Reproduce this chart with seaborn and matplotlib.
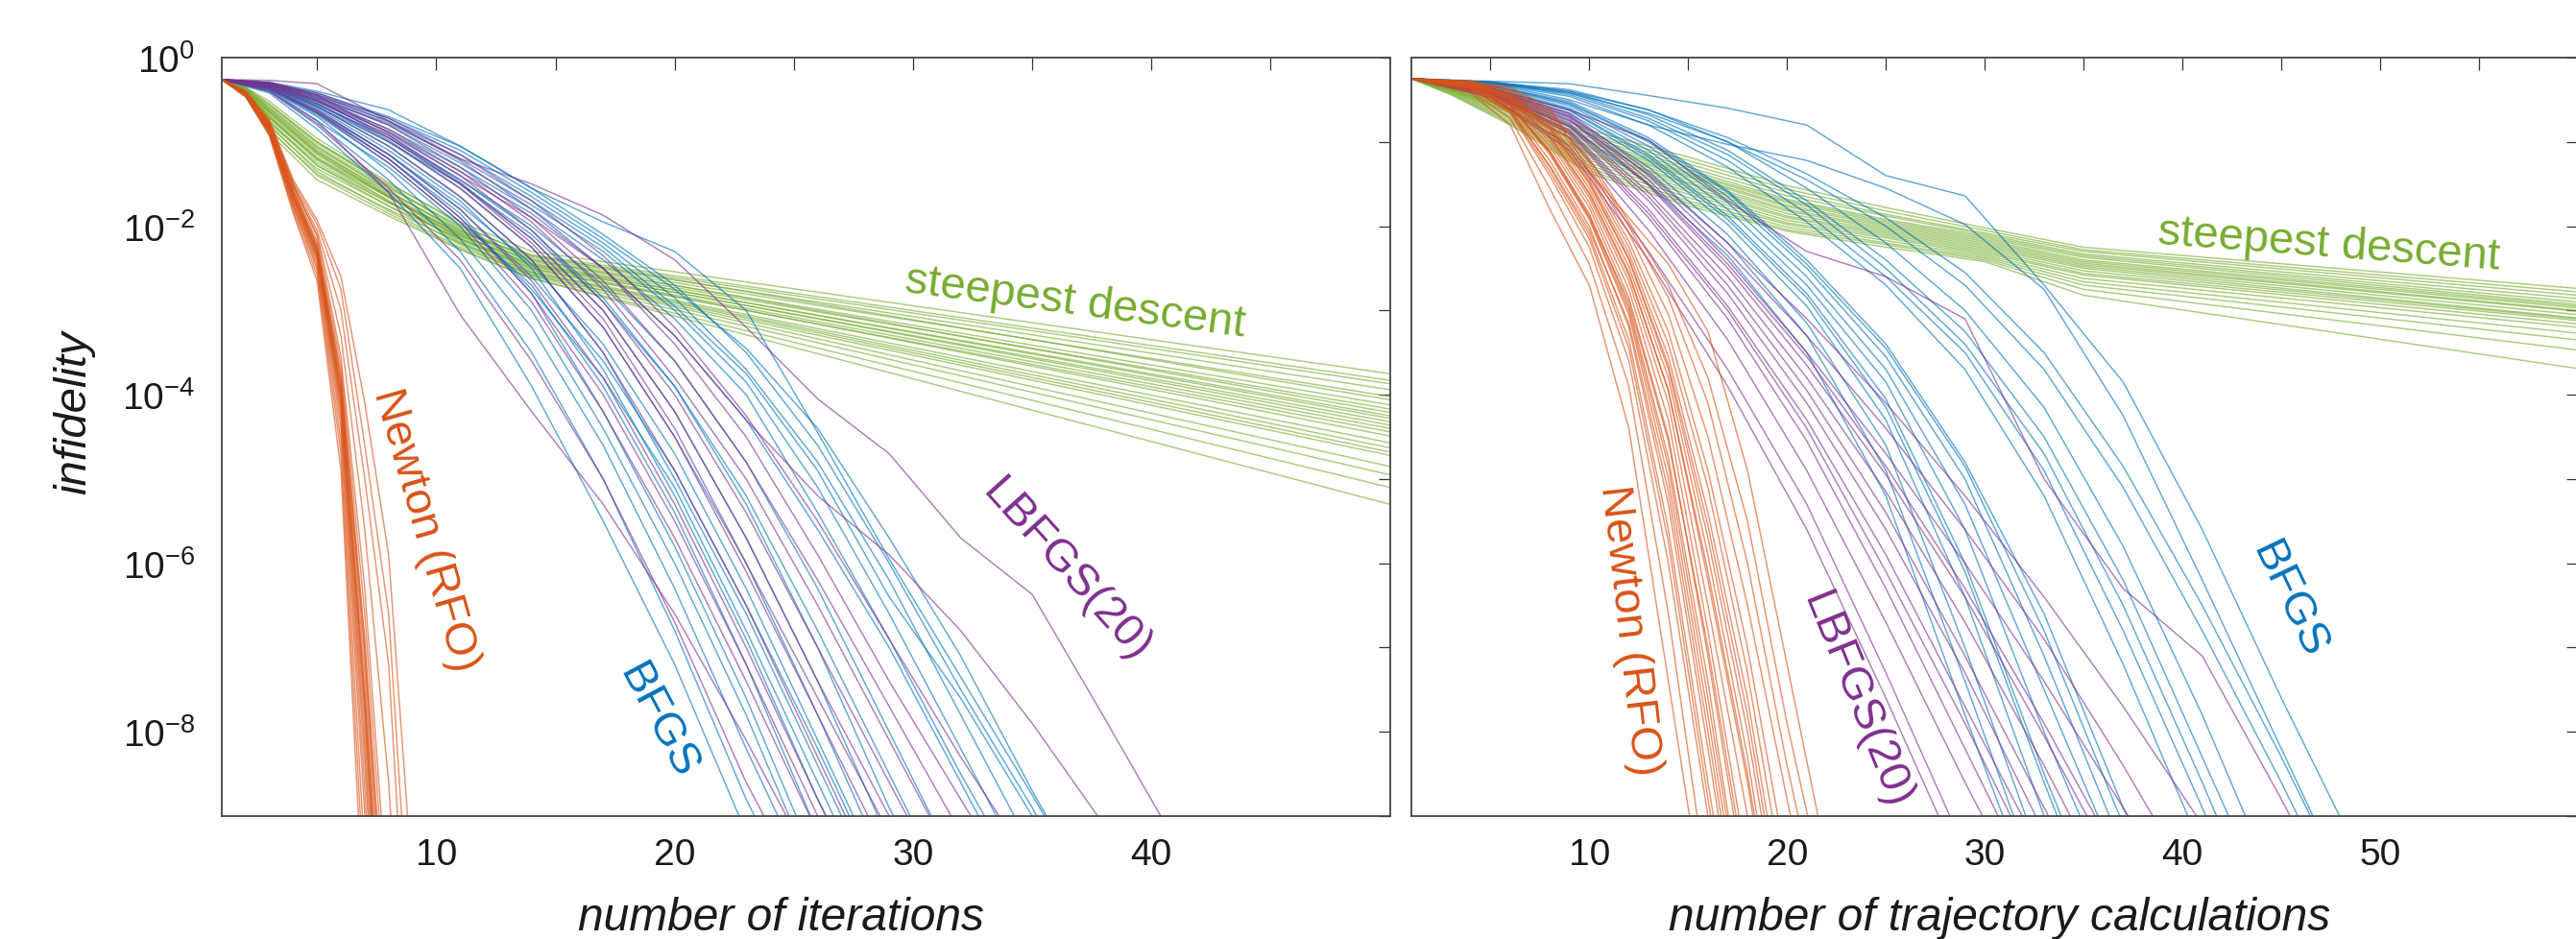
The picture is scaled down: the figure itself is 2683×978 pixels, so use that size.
import numpy as np
import pandas as pd
import matplotlib
matplotlib.use("Agg")
import matplotlib.pyplot as plt
import seaborn as sns

# values are log10(infidelity)
# ---------------- left panel: number of iterations ----------------
newton_it_x = [1, 2, 3, 4, 5, 6, 7, 8, 9]
newton_it = [
    [-0.26, -0.40, -0.78, -1.52, -2.12, -3.55, -6.3, -10.2],
    [-0.26, -0.41, -0.80, -1.55, -2.18, -3.65, -6.6, -10.6],
    [-0.26, -0.41, -0.81, -1.57, -2.22, -3.75, -6.9, -11.0],
    [-0.26, -0.42, -0.82, -1.60, -2.26, -3.85, -7.1, -11.5],
    [-0.26, -0.42, -0.83, -1.62, -2.28, -3.90, -7.3, -11.8],
    [-0.26, -0.42, -0.84, -1.63, -2.30, -3.95, -7.5, -12.0],
    [-0.26, -0.43, -0.84, -1.65, -2.32, -4.00, -7.6, -12.0],
    [-0.26, -0.43, -0.85, -1.66, -2.34, -4.05, -7.8, -12.5],
    [-0.26, -0.43, -0.86, -1.68, -2.36, -4.10, -8.0, -12.5],
    [-0.26, -0.44, -0.87, -1.70, -2.38, -4.15, -8.2, -13.0],
    [-0.26, -0.44, -0.88, -1.72, -2.40, -4.20, -8.4, -13.0],
    [-0.26, -0.44, -0.88, -1.74, -2.44, -4.30, -8.7, -13.5],
    [-0.26, -0.45, -0.89, -1.76, -2.48, -4.40, -9.0, -14.0],
    [-0.26, -0.45, -0.90, -1.78, -2.52, -4.55, -9.5],
    [-0.26, -0.46, -0.92, -1.82, -2.58, -4.70, -10.0],
    [-0.26, -0.46, -0.93, -1.85, -2.65, -4.90, -10.5],
    [-0.26, -0.42, -0.82, -1.58, -2.24, -3.80, -7.0, -11.2],
    [-0.26, -0.43, -0.85, -1.64, -2.30, -3.98, -7.7, -12.2],
    [-0.26, -0.40, -0.74, -1.45, -1.93, -2.60, -4.10, -5.90, -9.8],
    [-0.26, -0.40, -0.76, -1.48, -1.98, -2.75, -4.60, -6.60, -11.0],
    [-0.26, -0.41, -0.78, -1.50, -2.05, -3.00, -5.00, -7.20, -12.0],
    [-0.26, -0.41, -0.78, -1.52, -2.10, -3.30, -5.60, -8.60, -13.0],
]

sd_it_x = [1, 2, 3, 5, 8, 11, 14, 50]
sd_it = [
    [-0.26, -0.36, -0.55, -1.00, -1.50, -1.95, -2.30, -3.75],
    [-0.26, -0.38, -0.60, -1.05, -1.55, -2.00, -2.34, -3.83],
    [-0.26, -0.35, -0.52, -0.96, -1.48, -1.98, -2.36, -3.87],
    [-0.26, -0.40, -0.66, -1.12, -1.60, -2.05, -2.38, -3.94],
    [-0.26, -0.37, -0.58, -1.02, -1.52, -2.02, -2.40, -4.02],
    [-0.26, -0.42, -0.72, -1.20, -1.66, -2.08, -2.35, -4.06],
    [-0.26, -0.39, -0.63, -1.08, -1.58, -2.06, -2.42, -4.12],
    [-0.26, -0.36, -0.56, -1.00, -1.53, -2.04, -2.44, -4.17],
    [-0.26, -0.44, -0.78, -1.28, -1.72, -2.12, -2.40, -4.21],
    [-0.26, -0.38, -0.62, -1.10, -1.62, -2.10, -2.46, -4.25],
    [-0.26, -0.41, -0.70, -1.18, -1.65, -2.10, -2.45, -4.28],
    [-0.26, -0.37, -0.60, -1.06, -1.58, -2.08, -2.48, -4.32],
    [-0.26, -0.45, -0.82, -1.32, -1.76, -2.15, -2.47, -4.36],
    [-0.26, -0.40, -0.68, -1.15, -1.64, -2.12, -2.50, -4.40],
    [-0.26, -0.39, -0.65, -1.14, -1.66, -2.14, -2.52, -4.44],
    [-0.26, -0.43, -0.76, -1.25, -1.72, -2.16, -2.50, -4.49],
    [-0.26, -0.38, -0.64, -1.12, -1.64, -2.15, -2.54, -4.57],
    [-0.26, -0.46, -0.86, -1.38, -1.80, -2.20, -2.55, -4.63],
    [-0.26, -0.41, -0.72, -1.22, -1.70, -2.18, -2.56, -4.68],
    [-0.26, -0.40, -0.70, -1.20, -1.70, -2.20, -2.58, -4.72],
    [-0.26, -0.44, -0.80, -1.35, -1.82, -2.25, -2.58, -4.85],
    [-0.26, -0.42, -0.75, -1.28, -1.76, -2.22, -2.60, -4.95],
    [-0.26, -0.47, -0.90, -1.45, -1.88, -2.28, -2.62, -5.10],
    [-0.26, -0.45, -0.85, -1.40, -1.85, -2.27, -2.62, -5.30],
]

qn_it_x = [1, 3, 5, 8, 11, 14, 17, 20, 23, 26, 29, 32, 35, 38, 41]
bfgs_it = [
    [-0.26, -0.42, -0.85, -1.60, -2.50, -3.90, -5.50, -7.20, -9.20],
    [-0.26, -0.40, -0.78, -1.45, -2.30, -3.50, -5.00, -6.80, -8.80, -10.5],
    [-0.26, -0.38, -0.70, -1.35, -2.15, -3.20, -4.60, -6.30, -8.20, -10.0],
    [-0.26, -0.40, -0.75, -1.30, -2.00, -3.00, -4.40, -6.00, -7.80, -9.8],
    [-0.26, -0.36, -0.65, -1.20, -1.85, -2.80, -4.20, -5.80, -7.60, -9.6],
    [-0.26, -0.37, -0.68, -1.25, -1.95, -2.70, -3.90, -5.40, -7.20, -9.2],
    [-0.26, -0.35, -0.60, -1.10, -1.70, -2.50, -3.70, -5.20, -6.90, -8.8, -10.5],
    [-0.26, -0.34, -0.58, -1.05, -1.65, -2.40, -3.50, -5.00, -6.60, -8.40, -10.2],
    [-0.26, -0.36, -0.62, -1.15, -1.75, -2.45, -3.40, -4.70, -6.30, -8.10, -9.9],
    [-0.26, -0.33, -0.55, -1.00, -1.55, -2.25, -3.20, -4.50, -6.00, -7.80, -9.7],
    [-0.26, -0.34, -0.56, -0.95, -1.50, -2.15, -3.00, -4.20, -5.70, -7.40, -9.3],
    [-0.26, -0.32, -0.52, -0.92, -1.45, -2.05, -2.85, -3.90, -5.30, -7.00, -8.9, -10.5],
    [-0.26, -0.32, -0.50, -0.85, -1.30, -1.80, -2.40, -3.10, -4.00, -5.40, -6.90, -8.50, -10.0],
    [-0.26, -0.31, -0.48, -0.80, -1.25, -1.75, -2.30, -3.00, -3.85, -5.10, -6.60, -8.20, -9.8],
    [-0.26, -0.33, -0.52, -0.88, -1.35, -1.85, -2.50, -3.30, -4.30, -5.60, -7.00, -8.60, -10.2],
    [-0.26, -0.30, -0.45, -0.75, -1.15, -1.65, -2.20, -2.85, -3.70, -4.80, -6.20, -7.80, -9.40],
    [-0.26, -0.31, -0.47, -0.78, -1.20, -1.70, -2.25, -2.95, -3.75, -4.90, -6.40, -7.60, -9.00, -10.5],
    [-0.26, -0.30, -0.42, -0.70, -1.05, -1.55, -2.10, -2.70, -3.50, -4.60, -6.00, -7.50, -8.90, -10.5],
    [-0.26, -0.29, -0.40, -0.62, -1.05, -1.55, -1.95, -2.30, -3.00, -4.45, -5.95, -7.35, -8.75, -10.2],
    [-0.26, -0.30, -0.44, -0.72, -1.10, -1.60, -2.15, -2.75, -3.45, -4.40, -5.70, -7.10, -8.70, -10.2],
    [-0.26, -0.35, -0.58, -1.00, -1.50, -2.10, -2.90, -3.90, -5.20, -6.80, -8.50, -10.2],
    [-0.26, -0.34, -0.55, -0.95, -1.45, -2.00, -2.70, -3.60, -4.80, -6.30, -8.00, -9.7],
    [-0.26, -0.37, -0.64, -1.15, -1.80, -2.60, -3.60, -4.90, -6.50, -8.20, -10.0],
    [-0.26, -0.38, -0.66, -1.20, -1.90, -2.75, -3.80, -5.10, -6.80, -8.60, -10.4],
]
lbfgs_it = [
    [-0.26, -0.40, -0.80, -1.55, -2.40, -3.60, -5.00, -6.70, -8.60, -10.2],
    [-0.26, -0.38, -0.75, -1.60, -3.05, -4.20, -5.30, -6.60, -8.10, -9.70],
    [-0.26, -0.36, -0.66, -1.25, -1.95, -2.90, -4.20, -5.70, -7.40, -9.20],
    [-0.26, -0.35, -0.62, -1.15, -1.80, -2.65, -3.80, -5.30, -7.00, -8.80, -10.5],
    [-0.26, -0.34, -0.58, -1.05, -1.65, -2.40, -3.50, -4.90, -6.50, -8.30, -10.1],
    [-0.26, -0.33, -0.54, -0.98, -1.55, -2.25, -3.20, -4.50, -6.10, -7.80, -9.50],
    [-0.26, -0.33, -0.52, -0.92, -1.48, -2.15, -3.00, -4.20, -5.70, -7.40, -9.00, -10.5],
    [-0.26, -0.32, -0.50, -0.88, -1.40, -2.05, -2.90, -4.00, -5.40, -7.00, -8.60, -10.2],
    [-0.26, -0.31, -0.48, -0.85, -1.35, -1.95, -2.75, -3.80, -5.00, -6.50, -8.10, -9.70],
    [-0.26, -0.31, -0.46, -0.80, -1.30, -1.90, -2.65, -3.60, -4.80, -6.20, -7.70, -9.20],
    [-0.26, -0.30, -0.44, -0.76, -1.22, -1.80, -2.50, -3.40, -4.50, -5.90, -7.40, -8.80, -10.2],
    [-0.26, -0.30, -0.42, -0.72, -1.15, -1.70, -2.35, -3.20, -4.25, -5.50, -6.90, -8.30, -9.60],
    [-0.26, -0.30, -0.45, -0.90, -1.40, -1.90, -2.50, -3.30, -4.30, -5.20, -5.90, -6.80, -7.90, -9.10],
    [-0.26, -0.27, -0.31, -0.75, -1.20, -1.50, -1.87, -2.40, -3.20, -4.05, -4.70, -5.70, -6.37, -7.82, -9.30],
    [-0.26, -0.32, -0.50, -0.95, -1.50, -2.20, -3.10, -4.40, -6.00, -7.60, -9.20],
    [-0.26, -0.36, -0.64, -1.20, -1.90, -2.80, -4.00, -5.50, -7.20, -9.00, -10.6],
]

# ---------------- right panel: number of trajectory calculations ----------------
newton_tr_x = [1, 4, 6, 8, 10, 12, 14, 16, 18, 20, 22]
newton_tr = [
    [-0.25, -0.42, -0.80, -1.80, -2.70, -4.40, -7.40, -10.4],
    [-0.25, -0.40, -0.72, -1.55, -2.45, -3.90, -6.60, -9.90],
    [-0.25, -0.38, -0.66, -1.40, -2.25, -3.60, -6.00, -9.00, -12.0],
    [-0.25, -0.36, -0.62, -1.30, -2.10, -3.35, -5.60, -8.60, -11.5],
    [-0.25, -0.35, -0.60, -1.22, -2.00, -3.20, -5.30, -8.20, -11.2],
    [-0.25, -0.34, -0.57, -1.15, -1.92, -3.05, -5.00, -7.80, -10.8],
    [-0.25, -0.34, -0.55, -1.10, -1.85, -2.95, -4.75, -7.40, -10.5],
    [-0.25, -0.33, -0.53, -1.05, -1.78, -2.85, -4.50, -7.10, -10.0],
    [-0.25, -0.33, -0.51, -1.00, -1.72, -2.75, -4.30, -6.80, -9.60],
    [-0.25, -0.32, -0.50, -0.96, -1.66, -2.65, -4.10, -6.50, -9.00, -11.5],
    [-0.25, -0.32, -0.48, -0.92, -1.60, -2.55, -3.95, -6.20, -8.60, -11.5],
    [-0.25, -0.31, -0.47, -0.88, -1.55, -2.48, -3.80, -5.90, -8.30, -11.2],
    [-0.25, -0.31, -0.46, -0.85, -1.50, -2.40, -3.70, -5.70, -8.00, -10.8],
    [-0.25, -0.30, -0.45, -0.82, -1.45, -2.32, -3.55, -5.40, -7.60, -10.4],
    [-0.25, -0.30, -0.44, -0.80, -1.40, -2.25, -3.40, -5.10, -7.30, -10.0],
    [-0.25, -0.30, -0.43, -0.77, -1.36, -2.18, -3.25, -4.90, -7.00, -9.60],
    [-0.25, -0.29, -0.41, -0.72, -1.30, -2.08, -3.05, -4.50, -6.50, -8.80, -11.0],
    [-0.25, -0.29, -0.39, -0.68, -1.25, -2.00, -2.85, -4.10, -6.00, -8.40, -10.5],
    [-0.25, -0.28, -0.37, -0.64, -1.20, -1.95, -2.70, -3.80, -5.50, -7.90, -10.0],
    [-0.25, -0.28, -0.35, -0.60, -1.35, -1.90, -2.45, -3.25, -4.90, -7.20, -9.50],
    [-0.25, -0.36, -0.63, -1.28, -2.05, -3.15, -5.15, -8.00, -11.0],
    [-0.25, -0.35, -0.58, -1.12, -1.88, -2.90, -4.55, -7.00, -9.80],
    [-0.25, -0.32, -0.49, -0.94, -1.62, -2.58, -3.95, -6.10, -8.50, -11.3],
    [-0.25, -0.31, -0.46, -0.84, -1.48, -2.38, -3.65, -5.55, -7.80, -10.6],
    [-0.25, -0.34, -0.56, -1.12, -1.90, -3.00, -4.85, -7.60, -10.6],
    [-0.25, -0.37, -0.64, -1.35, -2.15, -3.45, -5.75, -8.80, -11.6],
]

sd_tr_x = [1, 3, 6, 10, 15, 20, 25, 30, 35, 60]
sd_tr = [
    [-0.25, -0.32, -0.48, -0.86, -1.18, -1.52, -1.78, -2.02, -2.25, -2.74],
    [-0.25, -0.33, -0.50, -0.90, -1.22, -1.56, -1.82, -2.05, -2.28, -2.78],
    [-0.25, -0.33, -0.52, -0.92, -1.26, -1.60, -1.86, -2.08, -2.30, -2.82],
    [-0.25, -0.34, -0.54, -0.95, -1.30, -1.64, -1.88, -2.10, -2.33, -2.86],
    [-0.25, -0.34, -0.55, -0.98, -1.33, -1.68, -1.92, -2.12, -2.35, -2.90],
    [-0.25, -0.35, -0.57, -1.00, -1.36, -1.70, -1.94, -2.14, -2.37, -2.93],
    [-0.25, -0.35, -0.58, -1.02, -1.38, -1.72, -1.96, -2.16, -2.40, -2.95],
    [-0.25, -0.36, -0.60, -1.05, -1.40, -1.75, -1.98, -2.18, -2.42, -2.97],
    [-0.25, -0.36, -0.61, -1.07, -1.42, -1.77, -2.00, -2.20, -2.44, -3.00],
    [-0.25, -0.37, -0.62, -1.09, -1.45, -1.80, -2.02, -2.22, -2.46, -3.01],
    [-0.25, -0.37, -0.64, -1.12, -1.48, -1.82, -2.04, -2.24, -2.48, -3.05],
    [-0.25, -0.38, -0.65, -1.14, -1.50, -1.85, -2.06, -2.26, -2.50, -3.09],
    [-0.25, -0.38, -0.66, -1.16, -1.53, -1.88, -2.08, -2.28, -2.53, -3.10],
    [-0.25, -0.39, -0.68, -1.19, -1.56, -1.90, -2.10, -2.30, -2.56, -3.12],
    [-0.25, -0.39, -0.70, -1.22, -1.59, -1.93, -2.12, -2.32, -2.58, -3.16],
    [-0.25, -0.40, -0.72, -1.25, -1.62, -1.96, -2.14, -2.34, -2.62, -3.20],
    [-0.25, -0.41, -0.74, -1.28, -1.66, -1.98, -2.17, -2.36, -2.66, -3.27],
    [-0.25, -0.42, -0.76, -1.31, -1.70, -2.01, -2.20, -2.38, -2.70, -3.35],
    [-0.25, -0.43, -0.78, -1.34, -1.73, -2.04, -2.22, -2.40, -2.75, -3.47],
    [-0.25, -0.44, -0.80, -1.37, -1.76, -2.06, -2.25, -2.42, -2.82, -3.69],
]

qn_tr_x = [1, 5, 9, 13, 17, 21, 25, 29, 33, 37, 41, 45, 49]
bfgs_tr = [
    [-0.25, -0.42, -0.82, -1.50, -2.35, -3.50, -5.20, -7.80, -10.3],
    [-0.25, -0.40, -0.75, -1.38, -2.20, -3.30, -4.90, -7.40, -10.0],
    [-0.25, -0.38, -0.70, -1.30, -2.10, -3.15, -4.60, -7.00, -9.60],
    [-0.25, -0.37, -0.66, -1.22, -1.98, -2.95, -4.30, -6.40, -9.00, -11.0],
    [-0.25, -0.36, -0.62, -1.15, -1.88, -2.80, -4.05, -6.00, -8.50, -10.8],
    [-0.25, -0.35, -0.60, -1.10, -1.80, -2.70, -3.85, -5.60, -8.00, -10.2],
    [-0.25, -0.34, -0.57, -1.05, -1.72, -2.60, -3.70, -5.30, -7.50, -9.70],
    [-0.25, -0.33, -0.55, -1.00, -1.65, -2.50, -3.55, -5.00, -7.10, -9.40],
    [-0.25, -0.33, -0.52, -0.95, -1.58, -2.40, -3.40, -4.80, -6.60, -8.90, -11.0],
    [-0.25, -0.31, -0.46, -0.80, -1.30, -1.95, -2.70, -3.70, -5.20, -7.20, -9.40],
    [-0.25, -0.30, -0.44, -0.75, -1.22, -1.85, -2.60, -3.50, -4.90, -6.80, -8.90, -11.0],
    [-0.25, -0.30, -0.42, -0.72, -1.15, -1.75, -2.50, -3.40, -4.70, -6.50, -8.60, -10.8],
    [-0.25, -0.29, -0.40, -0.68, -1.10, -1.70, -2.40, -3.25, -4.50, -6.20, -8.30, -10.4],
    [-0.25, -0.29, -0.38, -0.62, -1.00, -1.55, -2.20, -3.00, -4.15, -5.80, -7.80, -10.0],
    [-0.25, -0.31, -0.50, -0.80, -1.03, -1.22, -1.55, -1.98, -2.75, -4.25, -6.20, -8.20, -10.2],
    [-0.25, -0.28, -0.31, -0.45, -0.60, -0.80, -1.40, -1.64, -2.70, -3.85, -5.60, -7.60, -9.50],
    [-0.25, -0.30, -0.42, -0.66, -1.00, -1.45, -2.00, -2.70, -3.70, -5.10, -6.80, -8.60, -10.5],
    [-0.25, -0.29, -0.40, -0.62, -0.95, -1.38, -1.90, -2.55, -3.50, -4.85, -6.50, -8.30, -10.2],
    [-0.25, -0.33, -0.54, -0.98, -1.60, -2.45, -3.45, -4.85, -6.80, -9.10],
    [-0.25, -0.36, -0.63, -1.18, -1.92, -2.85, -4.15, -6.10, -8.60, -11.0],
]
lbfgs_tr = [
    [-0.25, -0.46, -1.05, -2.30, -3.70, -5.30, -7.30, -9.40],
    [-0.25, -0.44, -0.95, -2.05, -3.35, -4.90, -6.70, -8.60, -10.4],
    [-0.25, -0.43, -0.90, -1.90, -3.10, -4.55, -6.30, -8.20, -10.1],
    [-0.25, -0.42, -0.86, -1.80, -2.95, -4.30, -5.90, -7.70, -9.50],
    [-0.25, -0.41, -0.82, -1.70, -2.80, -4.10, -5.60, -7.30, -9.20],
    [-0.25, -0.40, -0.78, -1.60, -2.60, -3.80, -5.15, -6.70, -8.40, -10.2],
    [-0.25, -0.39, -0.74, -1.52, -2.50, -3.65, -4.95, -6.40, -8.05, -9.80],
    [-0.25, -0.38, -0.70, -1.45, -2.40, -3.50, -4.70, -6.00, -7.40, -8.90, -10.4],
    [-0.25, -0.37, -0.66, -1.35, -2.20, -3.10, -4.10, -5.20, -6.40, -7.70, -9.10],
    [-0.25, -0.36, -0.62, -0.98, -1.70, -2.30, -2.60, -3.10, -5.00, -6.30, -7.10, -8.80, -10.6],
    [-0.25, -0.47, -1.10, -2.40, -3.90, -5.60, -7.60, -9.70],
    [-0.25, -0.42, -0.88, -1.85, -3.00, -4.40, -6.10, -7.90, -9.80],
    [-0.25, -0.40, -0.80, -1.65, -2.70, -3.95, -5.40, -7.10, -8.90, -10.7],
    [-0.25, -0.39, -0.72, -1.50, -2.45, -3.55, -4.85, -6.30, -7.90, -9.60],
    [-0.25, -0.37, -0.68, -1.40, -2.30, -3.30, -4.40, -5.60, -6.90, -8.40, -10.0],
]

methods = ["steepest descent", "BFGS", "LBFGS(20)", "Newton (RFO)"]
colors = {"steepest descent": "#77AC30", "BFGS": "#0072BD",
          "LBFGS(20)": "#7E2F8E", "Newton (RFO)": "#D95319"}


def long_frame(groups):
    rows = []
    for method, xs, runs in groups:
        for i, run in enumerate(runs):
            for x, v in zip(xs, run):
                rows.append((method, f"{method}-{i}", x, 10.0 ** v))
    return pd.DataFrame(rows, columns=["method", "run", "x", "infidelity"])


df_it = long_frame([
    ("steepest descent", sd_it_x, sd_it),
    ("BFGS", qn_it_x, bfgs_it),
    ("LBFGS(20)", qn_it_x, lbfgs_it),
    ("Newton (RFO)", newton_it_x, newton_it),
])
df_tr = long_frame([
    ("steepest descent", sd_tr_x, sd_tr),
    ("BFGS", qn_tr_x, bfgs_tr),
    ("LBFGS(20)", qn_tr_x, lbfgs_tr),
    ("Newton (RFO)", newton_tr_x, newton_tr),
])

sns.set_theme(style="white")
plt.rcParams["font.family"] = ["Liberation Sans", "DejaVu Sans"]
plt.rcParams["mathtext.default"] = "regular"

fig = plt.figure(figsize=(26.83, 9.79), dpi=100)
W, H = 2683.0, 979.0
ax1 = fig.add_axes([231 / W, 1 - 851 / H, (1447.5 - 231) / W, (851 - 61) / H])
ax2 = fig.add_axes([1470 / W, 1 - 851 / H, (2685 - 1470) / W, (851 - 61) / H])

for ax, df, xmax in [(ax1, df_it, 50), (ax2, df_tr, 60)]:
    ax.set_yscale("log")
    sns.lineplot(data=df, x="x", y="infidelity", hue="method", units="run",
                 estimator=None, hue_order=methods, palette=colors,
                 linewidth=1.05, alpha=0.62, legend=False, sort=False, ax=ax)
    ax.set_xlim(1, xmax)
    ax.set_ylim(1e-9, 1)
    ax.set_yticks([10.0 ** -k for k in range(10)])
    ax.yaxis.set_minor_locator(matplotlib.ticker.NullLocator())
    ticks = list(range(5, xmax, 5))
    ax.set_xticks(ticks, [str(t) if t % 10 == 0 else "" for t in ticks])
    ax.tick_params(axis="both", which="both", direction="in", top=True,
                   right=True, length=9, width=0.9, color="#333333",
                   labelsize=28, labelcolor="#1a1a1a")
    ax.tick_params(axis="x", pad=16)
    ax.tick_params(axis="y", pad=20)
    for sp in ax.spines.values():
        sp.set_color("#444444")
        sp.set_linewidth(1.3)
    ax.set_ylabel("")

ax1.set_yticklabels([r"$10^{%d}$" % -k if k % 2 == 0 else "" for k in range(10)])
ax2.set_yticklabels([])

ax1.set_xlabel("number of iterations", fontsize=34.5, style="italic", color="#1a1a1a")
ax1.xaxis.set_label_coords(0.479, -0.105)
ax2.set_xlabel("number of trajectory calculations", fontsize=34.5, style="italic",
               color="#1a1a1a")
ax2.xaxis.set_label_coords(0.504, -0.105)
ax1.set_ylabel("infidelity", fontsize=34, style="italic", color="#1a1a1a")
ax1.yaxis.set_label_coords(-0.108, 0.533)

notes = [
    (ax1, "Newton (RFO)", 9.54, -5.6, -74),
    (ax1, "BFGS", 19.3, -7.86, -62),
    (ax1, "LBFGS(20)", 36.4, -6.07, -48),
    (ax1, "steepest descent", 36.8, -2.9, -7.5),
    (ax2, "Newton (RFO)", 12.05, -6.79, -83.5),
    (ax2, "LBFGS(20)", 23.5, -7.61, -68),
    (ax2, "BFGS", 45.35, -6.42, -64.5),
    (ax2, "steepest descent", 47.4, -2.21, -4.3),
]
for ax, txt, x, ly, rot in notes:
    ax.text(x, 10.0 ** ly, txt, color=colors[txt], fontsize=34, rotation=rot,
            ha="center", va="center", rotation_mode="anchor")

fig.savefig("out.png", dpi=100)
